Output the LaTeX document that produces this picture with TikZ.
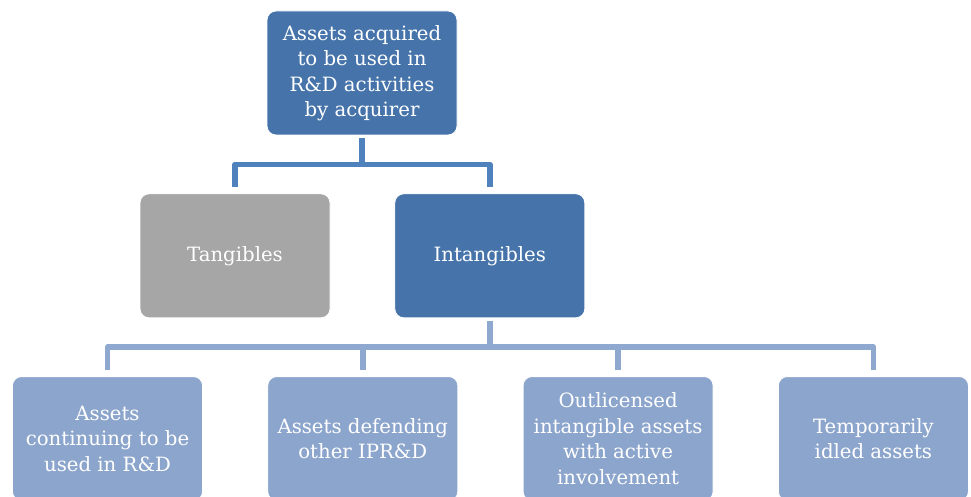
\documentclass[tikz,border=0pt]{standalone}
\usepackage{fontspec}
\setmainfont{DejaVu Serif}
\usepackage{xcolor}
\usetikzlibrary{positioning, calc}

\definecolor{boxdark}{HTML}{4674AA}
\definecolor{boxgrey}{HTML}{A6A6A6}
\definecolor{boxlight}{HTML}{8CA5CC}
\definecolor{linedark}{HTML}{4F81BD}
\definecolor{linelight}{HTML}{8EA8D0}

\begin{document}
\begin{tikzpicture}[
    x=1pt, y=1pt,
    node distance=58pt,
    tierbox/.style={rectangle, draw=white, line width=0.8pt, rounded corners=9pt, text=white,
        minimum width=190pt, minimum height=124pt, align=center,
        font=\fontsize{19.7}{25.5}\selectfont},
    topbox/.style={tierbox, fill=boxdark},
    greybox/.style={tierbox, fill=boxgrey},
    leafbox/.style={tierbox, fill=boxlight},
    trunk/.style={line width=5.5pt, line join=round, shorten >=6pt}
]
\useasboundingbox (0,0) rectangle (971,-497);

% Level 1
\node[topbox] (root) at (362,-73) {Assets acquired\\to be used in\\R\&D activities\\by acquirer};

% Level 2
\node[greybox, below=of root, xshift=-127pt] (tang) {Tangibles};
\node[topbox, right=64pt of tang] (intang) {Intangibles};

% Level 3
\node[leafbox, below=of tang, xshift=-127.5pt] (cont) {Assets\\continuing to be\\used in R\&D};
\node[leafbox, right=64.5pt of cont] (defend) {Assets defending\\other IPR\&D};
\node[leafbox, right=64.5pt of defend] (outlic) {Outlicensed\\intangible assets\\with active\\involvement};
\node[leafbox, right=64.5pt of outlic] (idle) {Temporarily\\idled assets};

% Connectors
\coordinate (forkA) at ($(root.south)+(0,-29)$);
\coordinate (forkB) at ($(intang.south)+(0,-29)$);
\draw[trunk, linedark, shorten >=0pt] ([yshift=-3pt]root.south) -- (forkA);
\draw[trunk, linedark] (forkA) -| (tang.north);
\draw[trunk, linedark] (forkA) -| (intang.north);
\draw[trunk, linelight, shorten >=0pt] ([yshift=-3pt]intang.south) -- (forkB);
\foreach \leaf in {cont, defend, outlic, idle}
    \draw[trunk, linelight] (forkB) -| (\leaf.north);

\end{tikzpicture}
\end{document}
